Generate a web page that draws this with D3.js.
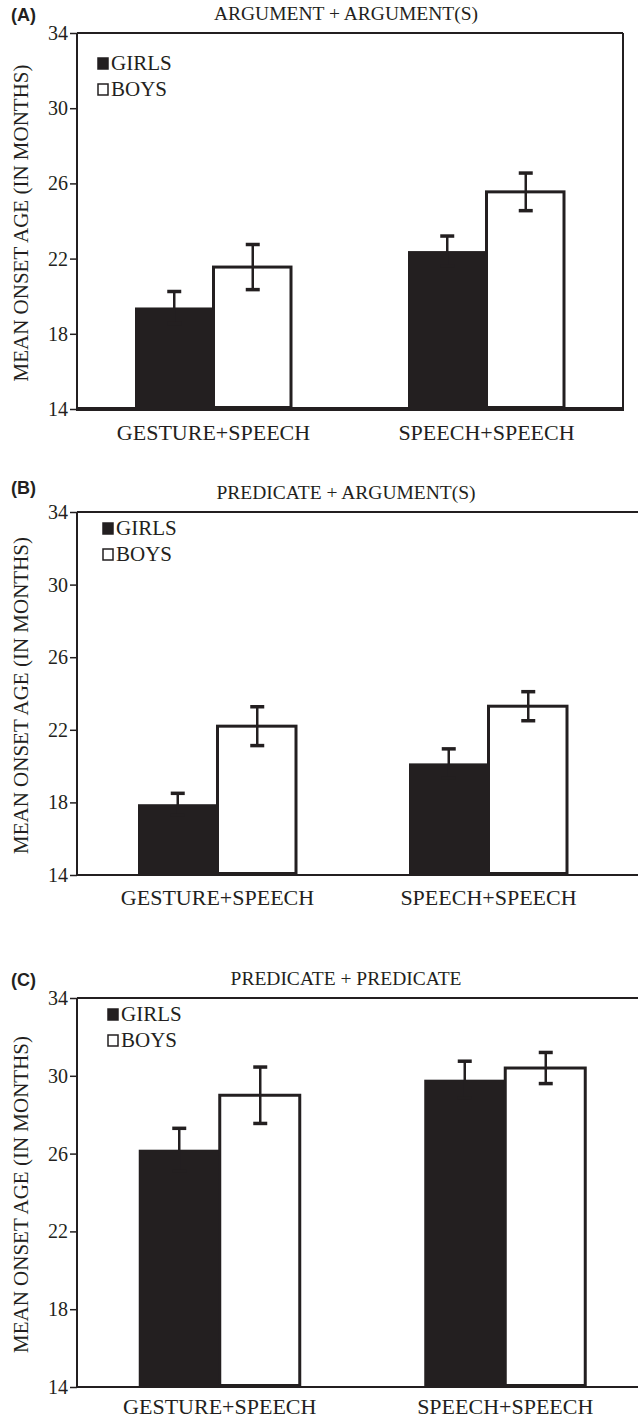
<!DOCTYPE html>
<html><head><meta charset="utf-8">
<script src="https://cdn.jsdelivr.net/npm/d3@7"></script>
<style>
html,body{margin:0;padding:0;background:#fff;}
svg{display:block;}
text{font-family:"Liberation Serif","Times New Roman",serif;fill:#231f20;}
</style></head>
<body>
<script>
const categories = ["GESTURE+SPEECH", "SPEECH+SPEECH"];
const seriesNames = ["GIRLS", "BOYS"];
const yTicks = [14, 18, 22, 26, 30, 34];
const panelLetters = ["(A)", "(B)", "(C)"];
const panelTitles = ["ARGUMENT + ARGUMENT(S)", "PREDICATE + ARGUMENT(S)", "PREDICATE + PREDICATE"];

const girlsA = [19.4, 22.4];
const boysA = [21.55, 25.55];
const girlsErrA = [0.85, 0.8];
const boysErrA = [1.2, 1.0];

const girlsB = [17.9, 20.15];
const boysB = [22.2, 23.3];
const girlsErrB = [0.6, 0.8];
const boysErrB = [1.07, 0.8];

const girlsC = [26.2, 29.8];
const boysC = [29.0, 30.4];
const girlsErrC = [1.1, 0.95];
const boysErrC = [1.45, 0.8];

const ink = "#231f20";
const serif = "'Liberation Serif','Times New Roman',serif";
const W = 638, H = 1420;
const svg = d3.select("body").append("svg").attr("width", W).attr("height", H);

const panels = [
  {girls: girlsA, boys: boysA, gErr: girlsErrA, bErr: boysErrA,
   top: 33, bottom: 409, axisX: 77, barRange: [77, 623], right: 623, box: true, bw: 78.5,
   letterY: 21, titleY: 20, legX: 97, legY: 70, labelY: 440},
  {girls: girlsB, boys: boysB, gErr: girlsErrB, bErr: boysErrB,
   top: 512, bottom: 875, axisX: 77, barRange: [82, 624], right: 638, box: false, bw: 79.5,
   letterY: 494, titleY: 499, legX: 102, legY: 535, labelY: 905},
  {girls: girlsC, boys: boysC, gErr: girlsErrC, bErr: boysErrC,
   top: 998, bottom: 1387, axisX: 77, barRange: [77, 648], right: 638, box: false, bw: 81,
   letterY: 986, titleY: 985, legX: 107, legY: 1021, labelY: 1414}
];

panels.forEach((p, i) => {
  const g = svg.append("g");
  const y = d3.scaleLinear().domain([14, 34]).range([p.bottom, p.top]);
  const x = d3.scalePoint().domain(categories).range(p.barRange).padding(0.5);

  g.append("text").attr("x", 11).attr("y", p.letterY)
    .style("font-family", "'Liberation Sans', Arial, sans-serif").style("font-weight", "bold")
    .style("font-size", "18px").text(panelLetters[i]);
  g.append("text").attr("x", 346).attr("y", p.titleY).attr("text-anchor", "middle")
    .style("font-family", serif).style("font-size", "19.5px").text(panelTitles[i]);

  const yAxis = d3.axisLeft(y).tickValues(yTicks).tickSize(7).tickPadding(2).tickFormat(d3.format("d"));
  const ya = g.append("g").attr("transform", `translate(${p.axisX},0)`).call(yAxis);
  ya.attr("font-family", null);
  ya.select(".domain").remove();
  ya.selectAll(".tick line").attr("stroke", ink).attr("stroke-width", 1.5);
  ya.selectAll(".tick text").style("font-family", serif).style("font-size", "20px").attr("fill", ink);
  g.append("line").attr("x1", p.axisX).attr("x2", p.axisX).attr("y1", p.top).attr("y2", p.bottom)
    .attr("stroke", ink).attr("stroke-width", 2);

  g.append("line").attr("x1", p.axisX).attr("x2", p.right).attr("y1", p.top).attr("y2", p.top)
    .attr("stroke", ink).attr("stroke-width", 2);
  if (p.box) {
    g.append("line").attr("x1", p.right).attr("x2", p.right).attr("y1", p.top).attr("y2", p.bottom)
      .attr("stroke", ink).attr("stroke-width", 2);
  }

  g.append("text").attr("transform", `translate(28,${(p.top + p.bottom) / 2 + 2}) rotate(-90)`)
    .attr("text-anchor", "middle").style("font-family", serif).style("font-size", "21px")
    .text("MEAN ONSET AGE (IN MONTHS)");

  const data = categories.map((c, k) => ({c, girls: p.girls[k], boys: p.boys[k], ge: p.gErr[k], be: p.bErr[k]}));
  data.forEach(d => {
    const cx = x(d.c);
    g.append("rect").attr("x", cx - p.bw).attr("y", y(d.girls)).attr("width", p.bw)
      .attr("height", y(14) - y(d.girls)).attr("fill", ink);
    g.append("rect").attr("x", cx).attr("y", y(d.boys)).attr("width", p.bw - 1)
      .attr("height", y(14) - y(d.boys) - 1.5).attr("fill", "#fff").attr("stroke", ink).attr("stroke-width", 3);
    [[cx - p.bw / 2, d.girls, d.ge], [cx + p.bw / 2, d.boys, d.be]].forEach(([ex, v, e]) => {
      g.append("line").attr("x1", ex).attr("x2", ex).attr("y1", y(v + e)).attr("y2", y(v - e))
        .attr("stroke", ink).attr("stroke-width", 2.5);
      [v + e, v - e].forEach(t => {
        g.append("line").attr("x1", ex - 7).attr("x2", ex + 7).attr("y1", y(t)).attr("y2", y(t))
          .attr("stroke", ink).attr("stroke-width", 3.5);
      });
    });
  });

  g.append("line").attr("x1", p.axisX - 1).attr("x2", p.right + 1).attr("y1", y(14)).attr("y2", y(14))
    .attr("stroke", ink).attr("stroke-width", p.box ? 4 : 2);

  categories.forEach(c => {
    g.append("text").attr("x", x(c)).attr("y", p.labelY).attr("text-anchor", "middle")
      .style("font-family", serif).style("font-size", "22px").text(c);
  });

  seriesNames.forEach((s, k) => {
    const ly = p.legY + k * 26;
    g.append("rect").attr("x", p.legX + 1).attr("y", ly - 12).attr("width", 10).attr("height", 11)
      .attr("fill", k === 0 ? ink : "#fff").attr("stroke", ink).attr("stroke-width", 1.5);
    g.append("text").attr("x", p.legX + 14).attr("y", ly)
      .style("font-family", serif).style("font-size", "21px").text(s);
  });
});
</script>
</body></html>
